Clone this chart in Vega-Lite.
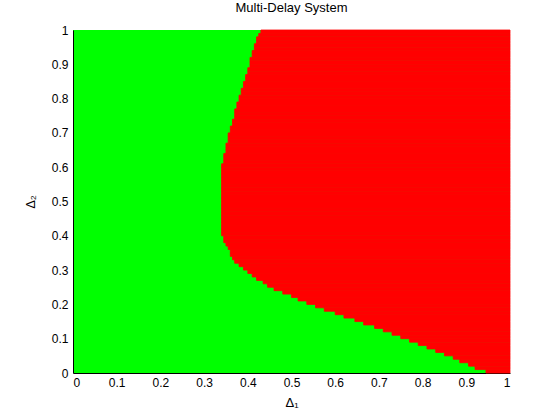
{
  "$schema": "https://vega.github.io/schema/vega-lite/v6.json",
  "autosize": {"type": "none"},
  "width": 437,
  "height": 343,
  "padding": {"left": 73, "top": 30, "right": 50, "bottom": 47},
  "background": "white",
  "title": {"text": "Multi-Delay System", "font": "Liberation Sans", "fontSize": 13, "fontWeight": "normal", "color": "black", "offset": 9, "anchor": "middle"},
  "config": {"view": {"stroke": null, "fill": "#00FF00"}},
  "data": {"values": [
    {"y0":0.00,"y1":0.01,"b":0.945},{"y0":0.01,"y1":0.02,"b":0.92},{"y0":0.02,"y1":0.03,"b":0.905},{"y0":0.03,"y1":0.04,"b":0.885},{"y0":0.04,"y1":0.05,"b":0.87},
    {"y0":0.05,"y1":0.06,"b":0.85},{"y0":0.06,"y1":0.07,"b":0.83},{"y0":0.07,"y1":0.08,"b":0.81},{"y0":0.08,"y1":0.09,"b":0.79},{"y0":0.09,"y1":0.10,"b":0.77},
    {"y0":0.10,"y1":0.11,"b":0.75},{"y0":0.11,"y1":0.12,"b":0.73},{"y0":0.12,"y1":0.13,"b":0.71},{"y0":0.13,"y1":0.14,"b":0.69},{"y0":0.14,"y1":0.15,"b":0.665},
    {"y0":0.15,"y1":0.16,"b":0.645},{"y0":0.16,"y1":0.17,"b":0.62},{"y0":0.17,"y1":0.18,"b":0.60},{"y0":0.18,"y1":0.19,"b":0.575},{"y0":0.19,"y1":0.20,"b":0.555},
    {"y0":0.20,"y1":0.21,"b":0.535},{"y0":0.21,"y1":0.22,"b":0.515},{"y0":0.22,"y1":0.23,"b":0.50},{"y0":0.23,"y1":0.24,"b":0.48},{"y0":0.24,"y1":0.25,"b":0.46},
    {"y0":0.25,"y1":0.26,"b":0.445},{"y0":0.26,"y1":0.27,"b":0.435},{"y0":0.27,"y1":0.28,"b":0.42},{"y0":0.28,"y1":0.29,"b":0.41},{"y0":0.29,"y1":0.30,"b":0.40},
    {"y0":0.30,"y1":0.31,"b":0.39},{"y0":0.31,"y1":0.32,"b":0.38},{"y0":0.32,"y1":0.33,"b":0.37},{"y0":0.33,"y1":0.34,"b":0.365},{"y0":0.34,"y1":0.35,"b":0.36},
    {"y0":0.35,"y1":0.36,"b":0.36},{"y0":0.36,"y1":0.37,"b":0.355},{"y0":0.37,"y1":0.38,"b":0.35},{"y0":0.38,"y1":0.39,"b":0.345},{"y0":0.39,"y1":0.40,"b":0.345},
    {"y0":0.40,"y1":0.41,"b":0.34},{"y0":0.41,"y1":0.42,"b":0.34},{"y0":0.42,"y1":0.43,"b":0.34},{"y0":0.43,"y1":0.44,"b":0.34},{"y0":0.44,"y1":0.45,"b":0.34},
    {"y0":0.45,"y1":0.46,"b":0.34},{"y0":0.46,"y1":0.47,"b":0.34},{"y0":0.47,"y1":0.48,"b":0.34},{"y0":0.48,"y1":0.49,"b":0.34},{"y0":0.49,"y1":0.50,"b":0.34},
    {"y0":0.50,"y1":0.51,"b":0.34},{"y0":0.51,"y1":0.52,"b":0.34},{"y0":0.52,"y1":0.53,"b":0.34},{"y0":0.53,"y1":0.54,"b":0.34},{"y0":0.54,"y1":0.55,"b":0.34},
    {"y0":0.55,"y1":0.56,"b":0.34},{"y0":0.56,"y1":0.57,"b":0.34},{"y0":0.57,"y1":0.58,"b":0.34},{"y0":0.58,"y1":0.59,"b":0.34},{"y0":0.59,"y1":0.60,"b":0.34},
    {"y0":0.60,"y1":0.61,"b":0.34},{"y0":0.61,"y1":0.62,"b":0.345},{"y0":0.62,"y1":0.63,"b":0.345},{"y0":0.63,"y1":0.64,"b":0.345},{"y0":0.64,"y1":0.65,"b":0.35},
    {"y0":0.65,"y1":0.66,"b":0.35},{"y0":0.66,"y1":0.67,"b":0.35},{"y0":0.67,"y1":0.68,"b":0.355},{"y0":0.68,"y1":0.69,"b":0.355},{"y0":0.69,"y1":0.70,"b":0.355},
    {"y0":0.70,"y1":0.71,"b":0.36},{"y0":0.71,"y1":0.72,"b":0.36},{"y0":0.72,"y1":0.73,"b":0.365},{"y0":0.73,"y1":0.74,"b":0.365},{"y0":0.74,"y1":0.75,"b":0.37},
    {"y0":0.75,"y1":0.76,"b":0.37},{"y0":0.76,"y1":0.77,"b":0.37},{"y0":0.77,"y1":0.78,"b":0.375},{"y0":0.78,"y1":0.79,"b":0.375},{"y0":0.79,"y1":0.80,"b":0.38},
    {"y0":0.80,"y1":0.81,"b":0.38},{"y0":0.81,"y1":0.82,"b":0.385},{"y0":0.82,"y1":0.83,"b":0.385},{"y0":0.83,"y1":0.84,"b":0.39},{"y0":0.84,"y1":0.85,"b":0.39},
    {"y0":0.85,"y1":0.86,"b":0.395},{"y0":0.86,"y1":0.87,"b":0.395},{"y0":0.87,"y1":0.88,"b":0.40},{"y0":0.88,"y1":0.89,"b":0.40},{"y0":0.89,"y1":0.90,"b":0.405},
    {"y0":0.90,"y1":0.91,"b":0.405},{"y0":0.91,"y1":0.92,"b":0.405},{"y0":0.92,"y1":0.93,"b":0.41},{"y0":0.93,"y1":0.94,"b":0.41},{"y0":0.94,"y1":0.95,"b":0.415},
    {"y0":0.95,"y1":0.96,"b":0.415},{"y0":0.96,"y1":0.97,"b":0.42},{"y0":0.97,"y1":0.98,"b":0.42},{"y0":0.98,"y1":0.99,"b":0.425},{"y0":0.99,"y1":1.00,"b":0.43}
  ]},
  "mark": {"type": "rect", "color": "#FF0000", "stroke": "#FF0000", "strokeWidth": 0.8},
  "encoding": {
    "x": {"field": "b", "type": "quantitative",
      "scale": {"domain": [0, 1], "nice": false},
      "axis": {"values": [0,0.1,0.2,0.3,0.4,0.5,0.6,0.7,0.8,0.9,1], "format": "~g", "grid": false, "ticks": false,
        "domainColor": "black", "domainWidth": 1, "labelColor": "black", "labelFont": "Liberation Sans", "labelFontSize": 12, "labelPadding": 4,
        "title": "Δ₁", "titleFont": "Liberation Sans", "titleFontSize": 13, "titleFontWeight": "normal", "titleColor": "black", "titlePadding": 8}},
    "x2": {"datum": 1},
    "y": {"field": "y0", "type": "quantitative",
      "scale": {"domain": [0, 1], "nice": false},
      "axis": {"values": [0,0.1,0.2,0.3,0.4,0.5,0.6,0.7,0.8,0.9,1], "format": "~g", "grid": false, "ticks": false,
        "domainColor": "black", "domainWidth": 1, "labelColor": "black", "labelFont": "Liberation Sans", "labelFontSize": 12, "labelPadding": 5,
        "title": "Δ₂", "titleFont": "Liberation Sans", "titleFontSize": 13, "titleFontWeight": "normal", "titleColor": "black", "titlePadding": 14}},
    "y2": {"field": "y1"}
  }
}
